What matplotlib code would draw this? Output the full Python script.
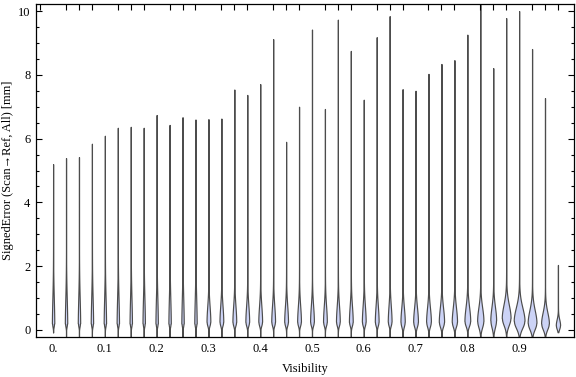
import numpy as np
import matplotlib
matplotlib.use("Agg")
import matplotlib.pyplot as plt
from matplotlib.ticker import MultipleLocator, FixedLocator

plt.rcParams['font.family'] = ['Liberation Serif', 'DejaVu Serif']

# Visibility bins (violin positions)
visibility = [round(0.025 * i, 3) for i in range(40)]

# Maximum and minimum signed error per bin [mm]
vmax = [5.2, 5.39, 5.42, 5.84, 6.09, 6.34, 6.37, 6.34, 6.74, 6.43, 6.67, 6.6,
        6.61, 6.63, 7.54, 7.37, 7.71, 9.12, 5.9, 7.0, 9.42, 6.93, 9.73, 8.75,
        7.22, 9.18, 9.84, 7.55, 7.5, 8.03, 8.34, 8.46, 9.26, 10.2, 8.21, 9.78,
        10.0, 8.81, 7.27, 2.04]
vmin = [-0.08, -0.68, -0.59, -0.52, -0.44, -0.73, -0.68, -0.73, -0.7, -0.65, -0.66, -0.6,
        -0.55, -0.52, -0.66, -0.73, -0.63, -0.7, -0.66, -0.63, -0.73, -0.66, -0.94, -0.91,
        -0.84, -0.89, -0.73, -0.8, -0.84, -0.8, -0.8, -0.89, -0.89, -1.01, -0.7, -0.6,
        -0.57, -0.5, -0.37, -0.07]
# Location of the widest point (mode) [mm]
mode = [0.2, 0.2, 0.2, 0.2, 0.2, 0.2, 0.2, 0.2, 0.2, 0.2, 0.2, 0.2,
        0.25, 0.25, 0.25, 0.25, 0.25, 0.25, 0.25, 0.25, 0.25, 0.25, 0.25, 0.25,
        0.25, 0.25, 0.25, 0.25, 0.25, 0.25, 0.25, 0.25, 0.27, 0.28, 0.3, 0.37,
        0.28, 0.22, 0.2, 0.15]
# Spread below / above the mode [mm]
spread_lo = [0.1] * 12 + [0.12] * 15 + [0.15] * 6 + [0.2, 0.22, 0.22, 0.22, 0.2, 0.18, 0.12]
spread_hi = [0.8] * 12 + [0.5] * 15 + [0.45] * 6 + [0.42, 0.42, 0.42, 0.42, 0.4, 0.35, 0.18]
# Weight of the long upper tail
tail = [0.3] * 12 + [0.1] * 15 + [0.07] * 6 + [0.05] * 7
# Maximum violin width [px]
width_px = [2.4] * 12 + [3.8] * 15 + [4.3, 4.8, 4.8, 5.3, 5.3, 5.8, 6.3, 5.8, 8.8, 10.8, 8.8, 7.8, 4.3]

PX_PER_UNIT = 518.0

vpstats = []
for i in range(len(visibility)):
    y = np.linspace(vmin[i], vmax[i], 800)
    s = np.where(y < mode[i], spread_lo[i], spread_hi[i])
    dens = np.exp(-0.5 * ((y - mode[i]) / s) ** 2)
    up = y > mode[i]
    dens = dens + np.where(up, tail[i] * np.exp(-(y - mode[i]) / 1.3), 0.0)
    dens = dens * np.clip((vmax[i] - y) / 0.6, 0, 1)
    vpstats.append(dict(coords=y, vals=dens, mean=float(np.mean(y)), median=mode[i],
                        min=vmin[i], max=vmax[i], quantiles=[]))

fig = plt.figure(figsize=(5.76, 3.77), dpi=100)
ax = fig.add_axes([36 / 576, 40 / 377, (574 - 36) / 576, (337 - 4) / 377])

widths = [w / PX_PER_UNIT for w in width_px]
res = ax.violin(vpstats, positions=visibility, widths=widths,
                showmeans=False, showextrema=False, showmedians=False)
for b in res['bodies']:
    b.set_facecolor('#ccd3f6')
    b.set_edgecolor('#4c4c4c')
    b.set_alpha(1)
    b.set_linewidth(0.85)

ax.set_xlim(-0.033, 1.006)
ax.set_ylim(-0.22, 10.22)

ax.set_yticks([0, 2, 4, 6, 8, 10])
ax.yaxis.set_minor_locator(MultipleLocator(0.5))
ax.set_xticks([0.1 * k for k in range(10)])
ax.set_xticklabels(['0.'] + ['%.1f' % (0.1 * k) for k in range(1, 10)])
ax.xaxis.set_minor_locator(FixedLocator([0.025 * k for k in range(-1, 40)]))

ax.tick_params(axis='y', which='both', direction='in', left=True, right=True,
               labelsize=9, pad=4, width=0.8)
ax.tick_params(axis='y', which='major', length=4)
ax.tick_params(axis='y', which='minor', length=2.5)
ax.tick_params(axis='x', which='major', length=0, labelsize=9, pad=4)
ax.tick_params(axis='x', which='minor', direction='in', top=True, bottom=False,
               length=4, width=0.8)

for sp in ax.spines.values():
    sp.set_linewidth(0.9)

ax.set_xlabel('Visibility', fontsize=9, labelpad=6)
ax.set_ylabel('SignedError (Scan\u2192Ref, All) [mm]', fontsize=9, labelpad=3)

fig.savefig('out.png', dpi=100)
